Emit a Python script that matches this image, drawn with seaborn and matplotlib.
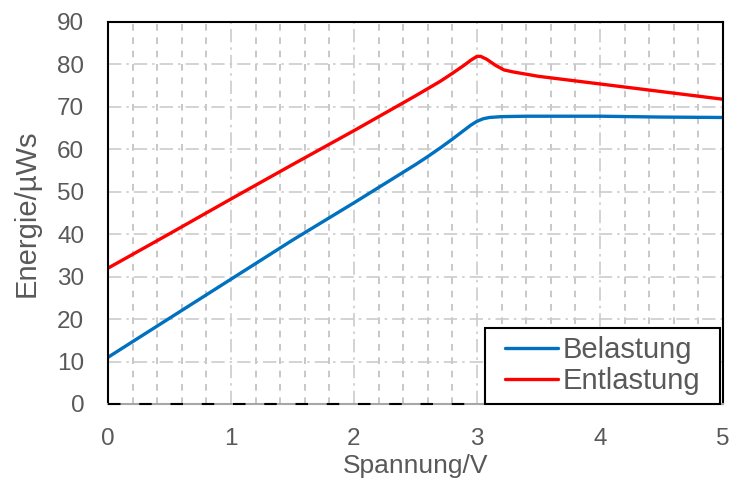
import numpy as np
import pandas as pd
import matplotlib
matplotlib.use("Agg")
import matplotlib.pyplot as plt
from matplotlib.ticker import MultipleLocator
import seaborn as sns

# Werte
spannung_bel = [0, 0.5, 1, 1.5, 2, 2.5, 2.6, 2.7, 2.8, 2.9, 2.95, 3.0, 3.05, 3.1, 3.2, 3.4, 4, 4.5, 5]
energie_bel = [11, 20.2, 29.4, 38.6, 47.4, 56.4, 58.3, 60.3, 62.4, 64.6, 65.7, 66.6, 67.2, 67.5, 67.7, 67.8, 67.8, 67.6, 67.5]

spannung_ent = [0, 0.5, 1, 1.5, 2, 2.5, 2.6, 2.7, 2.8, 2.9, 2.95, 3.0, 3.03, 3.08, 3.15, 3.22, 3.3, 3.5, 4, 4.5, 5]
energie_ent = [32, 40.1, 48.3, 56.4, 64.4, 72.6, 74.3, 76.0, 77.9, 79.9, 81.0, 81.9, 81.9, 81.2, 79.8, 78.7, 78.2, 77.2, 75.4, 73.6, 71.8]

nulllinie_x = [0, 3]
nulllinie_y = [0, 0]

sns.set_style("white")
plt.rcParams['font.family'] = ['Liberation Sans', 'DejaVu Sans']
grau = '#595959'

fig = plt.figure(figsize=(7.32, 4.79), dpi=100)
ax = fig.add_axes([0.1475, 0.1566, 0.8402, 0.7975])

df_bel = pd.DataFrame({'x': spannung_bel, 'y': energie_bel})
df_ent = pd.DataFrame({'x': spannung_ent, 'y': energie_ent})

sns.lineplot(data=df_bel, x='x', y='y', ax=ax, color='#0070C0', lw=2.4, label='Belastung')
sns.lineplot(data=df_ent, x='x', y='y', ax=ax, color='#FF0000', lw=2.4, label='Entlastung')
ax.plot(nulllinie_x, nulllinie_y, color='black', lw=1.5, dashes=[6, 9], zorder=5, clip_on=False)

ax.set_xlim(0, 5)
ax.set_ylim(0, 90)
ax.xaxis.set_major_locator(MultipleLocator(1))
ax.xaxis.set_minor_locator(MultipleLocator(0.2))
ax.yaxis.set_major_locator(MultipleLocator(10))

ax.grid(which='major', axis='both', color='#cccccc', lw=1.2, linestyle=(0, (8, 3, 1.5, 3)))
ax.grid(which='minor', axis='x', color='#bfbfbf', lw=1.2, linestyle=(0, (4, 4)))
ax.set_axisbelow(True)

ax.tick_params(axis='x', which='both', length=0, labelsize=17.5, labelcolor=grau, pad=17)
ax.tick_params(axis='y', which='both', length=0, labelsize=17.5, labelcolor=grau, pad=17)
ax.set_xlabel('Spannung/V', fontsize=19, color=grau, labelpad=3)
ax.set_ylabel('Energie/µWs', fontsize=21, color=grau, labelpad=12)

for s in ['left', 'top', 'right']:
    ax.spines[s].set_color('black')
    ax.spines[s].set_linewidth(1.5)
ax.spines['bottom'].set_color('#a6a6a6')
ax.spines['bottom'].set_linewidth(1.5)

# Legende: zusaetzlicher Rand nur links/rechts ueber mutation_aspect
leg = ax.legend(loc='lower right', bbox_to_anchor=(0.977, 0.0), fontsize=21,
                frameon=True, fancybox=False, borderaxespad=0, handlelength=1.8,
                handletextpad=0.17, borderpad=0.3, labelspacing=0.1)
rahmen = leg.get_frame()
rahmen.set_boxstyle('square', pad=0.38)
rahmen.set_mutation_aspect(0.001)
rahmen.set_edgecolor('black')
rahmen.set_linewidth(1.5)
rahmen.set_alpha(1)
for t in leg.get_texts():
    t.set_color(grau)

fig.savefig('out.png', dpi=100)
